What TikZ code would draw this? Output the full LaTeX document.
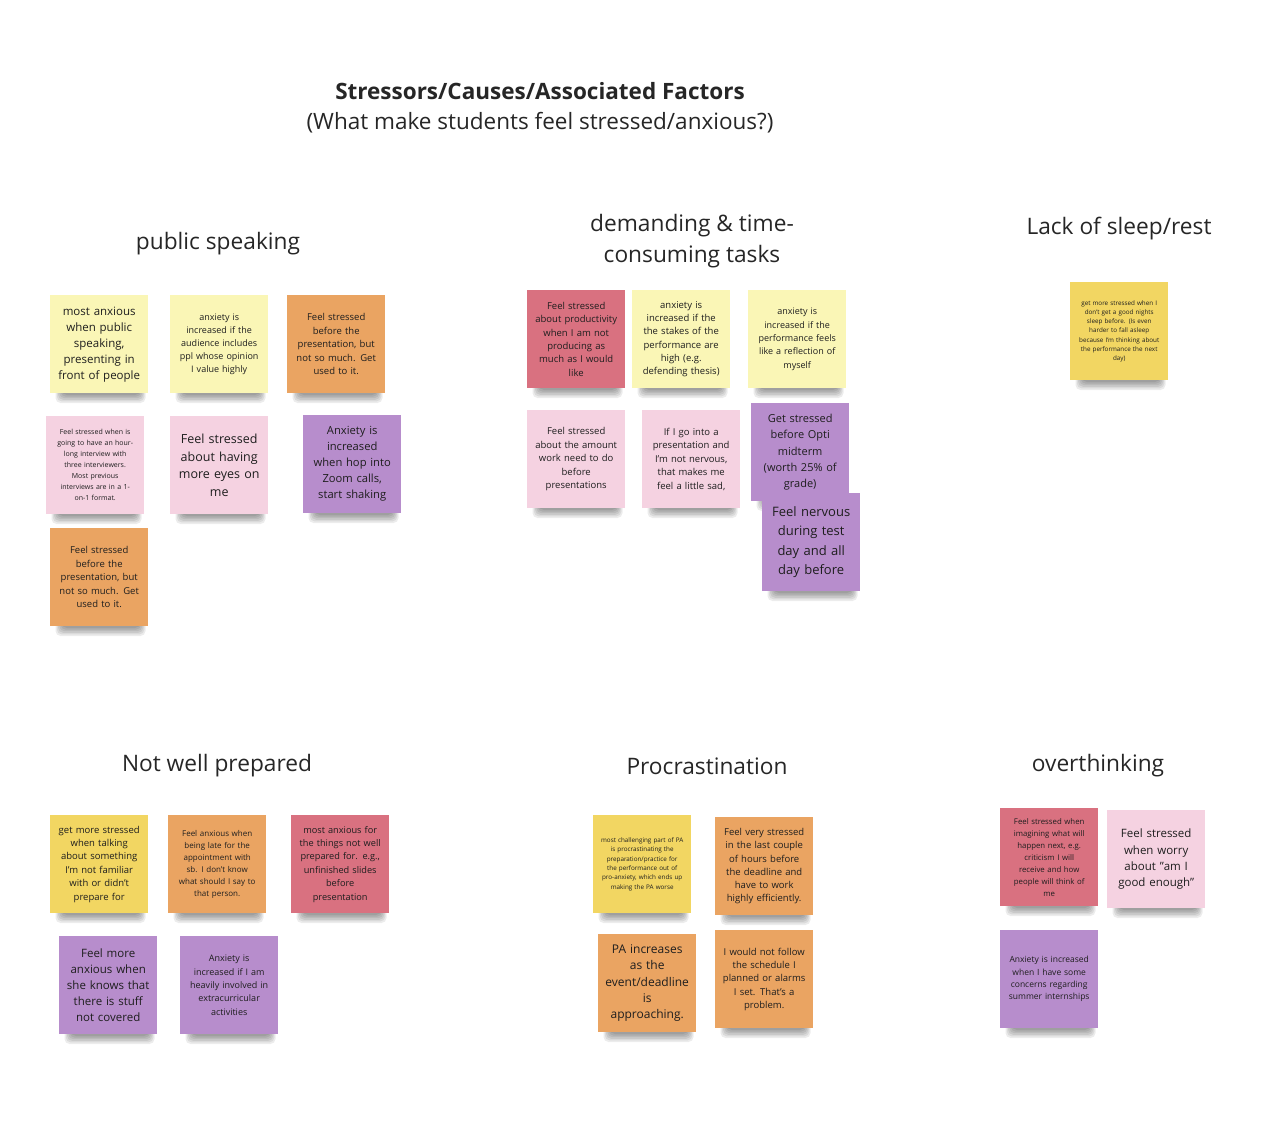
\documentclass[tikz,border=0pt]{standalone}
\usepackage{fontspec}
\setmainfont{Open Sans}
\definecolor{cpale}{RGB}{250,246,182}
\definecolor{corange}{RGB}{234,164,98}
\definecolor{cpink}{RGB}{245,210,225}
\definecolor{cpurple}{RGB}{183,141,204}
\definecolor{cred}{RGB}{217,113,128}
\definecolor{cyellow}{RGB}{242,214,98}
\definecolor{ctext}{RGB}{30,30,30}
\tikzset{
  stickynote/.style={minimum width=98pt, minimum height=98pt, text width=96pt,
    align=center, inner sep=0pt, text=ctext},
  shadowlayer/.style={fill=black, opacity=0.075, rounded corners=5pt},
  heading/.style={font=\fontsize{22.7}{31}\selectfont, text=black!85, align=center}
}
\newcommand\stnote[7]{%
  \foreach \i in {0,...,5}{\fill[shadowlayer] (#2+12-\i*1.3,#3+84) rectangle (#2+90+\i*1.1,#3+100+\i*1.6);}
  \node[stickynote, fill=#4, font=\fontsize{#5}{#6}\selectfont, anchor=north west] (#1) at (#2,#3) {#7};}
\begin{document}
\begin{tikzpicture}[x=1pt,y=-1pt]
\useasboundingbox[fill=white] (0,0) rectangle (1280,1132);
\node[font=\bfseries\fontsize{22.5}{26}\selectfont, text=black!85] (title) at (540,91) {Stressors/Causes/Associated Factors};
\node[font=\fontsize{22.5}{26}\selectfont, text=black!85] (subtitle) at (540,123) {(What make students feel stressed/anxious?)};
\node[heading] (h1) at (218,244) {public speaking};
\node[heading] (h2) at (692,241) {demanding \& time-\\consuming tasks};
\node[heading] (h3) at (1119,229) {Lack of sleep/rest};
\node[heading] (h4) at (217,766) {Not well prepared};
\node[heading] (h5) at (707,766) {Procrastination};
\node[heading] (h6) at (1098,766) {overthinking};
% public speaking
\stnote{p1}{50}{295}{cpale}{11.5}{16}{most anxious\\when public\\speaking,\\presenting in\\front of people}
\stnote{p2}{170}{295}{cpale}{9}{13}{anxiety is\\increased if the\\audience includes\\ppl whose opinion\\I value highly}
\stnote{p3}{287}{295}{corange}{9.5}{13.5}{Feel stressed\\before the\\presentation, but\\not so much. Get\\used to it.}
\stnote{p4}{46}{416}{cpink}{7}{11}{Feel stressed when is\\going to have an hour-\\long interview with\\three interviewers.\\Most previous\\interviews are in a 1-\\on-1 format.}
\stnote{p5}{170}{416}{cpink}{12.5}{17.5}{Feel stressed\\about having\\more eyes on\\me}
\stnote{p6}{303}{415}{cpurple}{11.2}{16}{Anxiety is\\increased\\when hop into\\Zoom calls,\\start shaking}
\stnote{p7}{50}{528}{corange}{9.5}{13.5}{Feel stressed\\before the\\presentation, but\\not so much. Get\\used to it.}
% demanding
\stnote{d1}{527}{290}{cred}{9.5}{13.3}{Feel stressed\\about productivity\\when I am not\\producing as\\much as I would\\like}
\stnote{d2}{632}{290}{cpale}{9.5}{13.3}{anxiety is\\increased if the\\the stakes of the\\performance are\\high (e.g.\\defending thesis)}
\stnote{d3}{748}{290}{cpale}{9}{13.3}{anxiety is\\increased if the\\performance feels\\like a reflection of\\myself}
\stnote{d4}{527}{410}{cpink}{9.5}{13.5}{Feel stressed\\about the amount\\work need to do\\before\\presentations}
\stnote{d5}{642}{410}{cpink}{9.5}{13.5}{If I go into a\\presentation and\\I'm not nervous,\\that makes me\\feel a little sad,}
\stnote{d6}{751}{403}{cpurple}{11}{16.3}{Get stressed\\before Opti\\midterm\\(worth 25\% of\\grade)}
\stnote{d7}{762}{493}{cpurple}{13}{19.3}{Feel nervous\\during test\\day and all\\day before}
% lack of sleep
\stnote{s1}{1070}{282}{cyellow}{6.3}{9.2}{get more stressed when I\\don't get a good nights\\sleep before. (Is even\\harder to fall asleep\\because I'm thinking about\\the performance the next\\day)}
% not well prepared
\stnote{w1}{50}{815}{cyellow}{9.5}{13.4}{get more stressed\\when talking\\about something\\I'm not familiar\\with or didn't\\prepare for}
\stnote{w2}{168}{815}{corange}{8}{12}{Feel anxious when\\being late for the\\appointment with\\sb. I don't know\\what should I say to\\that person.}
\stnote{w3}{291}{815}{cred}{9.2}{13.4}{most anxious for\\the things not well\\prepared for. e.g.,\\unfinished slides\\before\\presentation}
\stnote{w4}{59}{936}{cpurple}{11.5}{16}{Feel more\\anxious when\\she knows that\\there is stuff\\not covered}
\stnote{w5}{180}{936}{cpurple}{9}{13.3}{Anxiety is\\increased if I am\\heavily involved in\\extracurricular\\activities}
% procrastination
\stnote{r1}{593}{815}{cyellow}{6.3}{9.4}{most challenging part of PA\\is procrastinating the\\preparation/practice for\\the performance out of\\pro-anxiety, which ends up\\making the PA worse}
\stnote{r2}{715}{817}{corange}{9.5}{13.3}{Feel very stressed\\in the last couple\\of hours before\\the deadline and\\have to work\\highly efficiently.}
\stnote{r3}{598}{934}{corange}{12}{16.3}{PA increases\\as the\\event/deadline\\is\\approaching.}
\stnote{r4}{715}{930}{corange}{9.5}{13.3}{I would not follow\\the schedule I\\planned or alarms\\I set. That's a\\problem.}
% overthinking
\stnote{o1}{1000}{808}{cred}{7.8}{12}{Feel stressed when\\imagining what will\\happen next, e.g.\\criticism I will\\receive and how\\people will think of\\me}
\stnote{o2}{1107}{810}{cpink}{11.5}{16.3}{Feel stressed\\when worry\\about "am I\\good enough"}
\stnote{o3}{1000}{930}{cpurple}{8.5}{12.3}{Anxiety is increased\\when I have some\\concerns regarding\\summer internships}
\end{tikzpicture}
\end{document}
